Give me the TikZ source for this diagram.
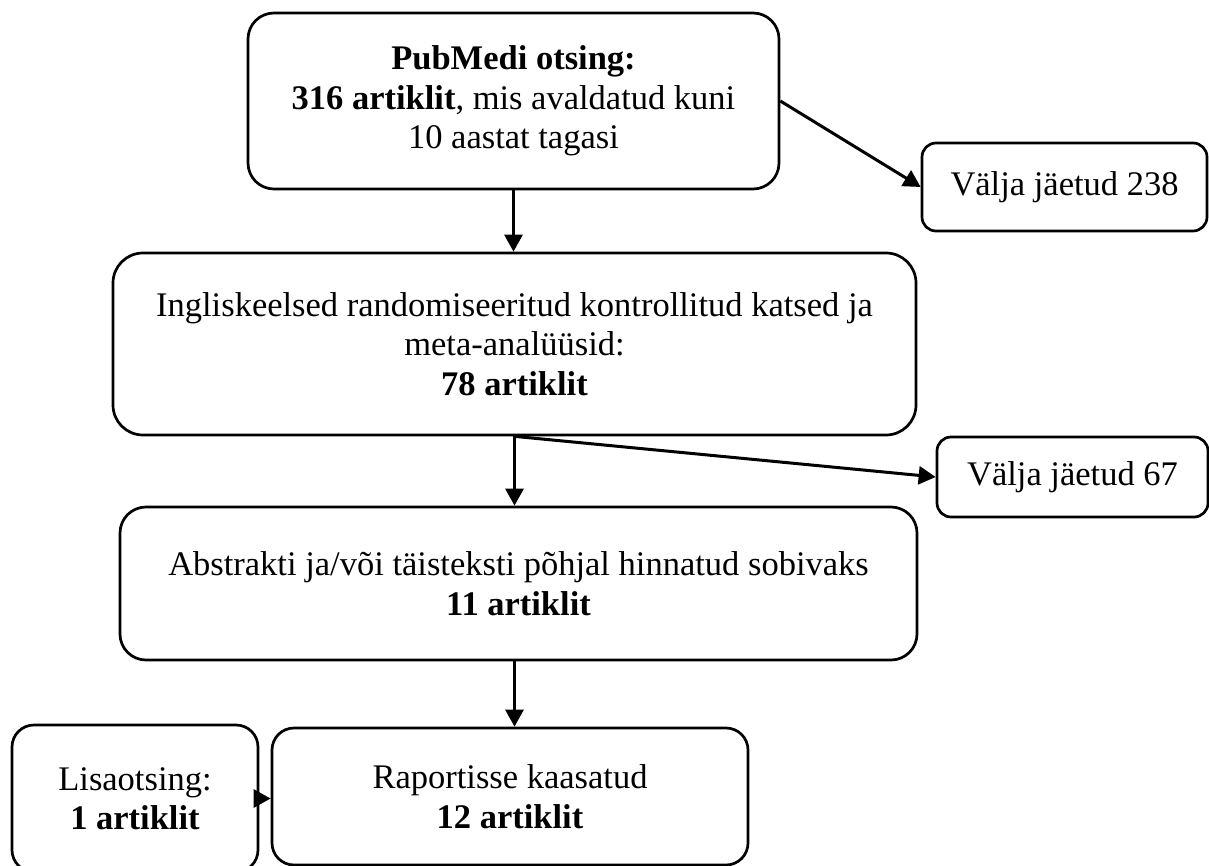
\documentclass[tikz,border=0pt]{standalone}
\usepackage{fontspec}
\setmainfont{Liberation Serif}
\usetikzlibrary{arrows.meta}

\tikzset{
  flowbox/.style={draw, line width=2.7pt, rounded corners=22pt, align=center, inner sep=0pt},
  flowarrow/.style={line width=3pt, -{Triangle[length=17pt,width=18pt]}}
}

\begin{document}
\begin{tikzpicture}[x=1pt, y=-1pt, font=\fontsize{34.5}{39.5}\selectfont]
\useasboundingbox (0,0) rectangle (1209,866);
\clip (0,0) rectangle (1209,866);

\node[flowbox, minimum width=531pt, minimum height=176pt, rounded corners=26pt] (pubmed) at (513.5,101)
	{\textbf{PubMedi otsing:}\\ \textbf{316 artiklit}, mis avaldatud kuni\\ 10 aastat tagasi};
\node[flowbox, minimum width=285pt, minimum height=88pt, rounded corners=14pt] (valja1) at (1064.5,187)
	{Välja jäetud 238};
\node[flowbox, minimum width=803pt, minimum height=182pt, rounded corners=30pt] (inglise) at (514.5,344)
	{Ingliskeelsed randomiseeritud kontrollitud katsed ja\\ meta-analüüsid:\\ \textbf{78 artiklit}};
\node[flowbox, minimum width=271pt, minimum height=80pt, rounded corners=14pt] (valja2) at (1072.5,477)
	{Välja jäetud 67};
\node[flowbox, minimum width=797pt, minimum height=153pt, rounded corners=26pt] (abstr) at (518.5,583.5)
	{Abstrakti ja/või täisteksti põhjal hinnatud sobivaks\\ \textbf{11 artiklit}};
\node[flowbox, minimum width=476pt, minimum height=137pt, rounded corners=22pt] (raport) at (510,796.5)
	{Raportisse kaasatud\\ \textbf{12 artiklit}};
\node[flowbox, minimum width=246pt, minimum height=147pt, rounded corners=22pt] (lisa) at (135,798.5)
	{Lisaotsing:\\ \textbf{1 artiklit}};

\draw[flowarrow] (pubmed.south) -- (pubmed.south |- inglise.north);
\draw[flowarrow] (pubmed.east) -- (valja1.west);
\draw[flowarrow] (inglise.south) -- (inglise.south |- abstr.north);
\draw[flowarrow] (inglise.south) -- (valja2.west);
\draw[flowarrow] (inglise.south |- abstr.south) -- (inglise.south |- raport.north);
\draw[flowarrow] (lisa.east) -- (lisa.east -| raport.west);

\end{tikzpicture}
\end{document}
